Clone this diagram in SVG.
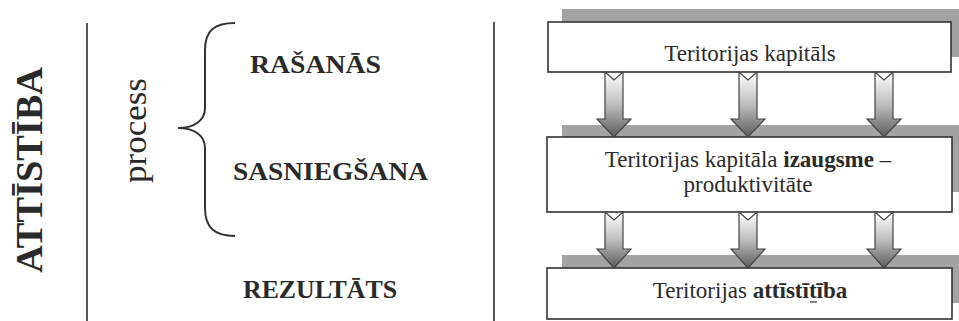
<svg xmlns="http://www.w3.org/2000/svg" width="959" height="321" viewBox="0 0 959 321">
<style>
.bg{fill:#ffffff}
.sep{stroke:#444;stroke-width:1.8;fill:none}
.brace{stroke:#333;stroke-width:2;fill:none}
.serif{font-family:"Liberation Serif","DejaVu Serif",serif;fill:#2a2a2a}
.cap{font-weight:bold;font-size:26px}
.box{fill:#ffffff;stroke:#333;stroke-width:1.6}
.shadow{fill:#a3a3a3}
.lbl{font-size:23px;text-anchor:middle}
.arrow{fill:url(#ag);stroke:#444;stroke-width:1.2;stroke-linejoin:miter}
</style>
<defs>
<linearGradient id="ag" x1="0" y1="0" x2="0" y2="1">
<stop offset="0" stop-color="#ffffff"/>
<stop offset="0.5" stop-color="#bdbdbd"/>
<stop offset="1" stop-color="#5c5c5c"/>
</linearGradient>
</defs>
<rect class="bg" x="0" y="0" width="959" height="321"/>

<g id="left">
<text class="serif" font-weight="bold" font-size="38" transform="translate(42,273) rotate(-90)" textLength="206" lengthAdjust="spacingAndGlyphs">ATTĪSTĪBA</text>
<line class="sep" x1="87" y1="23" x2="87" y2="321"/>
<text class="serif" font-size="34" transform="translate(146,183) rotate(-90)" textLength="105" lengthAdjust="spacingAndGlyphs">process</text>
<path class="brace" d="M235,23 C215,23 205,30 205,50 L205,108 C205,120 195,128 178,128 C195,128 205,136 205,148 L205,208 C205,228 215,236 235,236"/>
</g>

<g id="n-rasanas"><text class="serif cap" x="250" y="73" textLength="131" lengthAdjust="spacingAndGlyphs">RAŠANĀS</text></g>
<g id="n-sasniegsana"><text class="serif cap" x="233" y="180" textLength="195" lengthAdjust="spacingAndGlyphs">SASNIEGŠANA</text></g>
<g id="n-rezultats"><text class="serif cap" x="243" y="298" textLength="154" lengthAdjust="spacingAndGlyphs">REZULTĀTS</text></g>

<line class="sep" x1="494" y1="22" x2="494" y2="321"/>

<g id="shadows">
<rect class="shadow" x="562" y="9" width="400" height="48"/>
<rect class="shadow" x="562" y="125" width="400" height="67"/>
<rect class="shadow" x="562" y="255" width="400" height="48"/>
</g>

<g id="box1">
<rect class="box" x="548" y="22" width="403" height="50"/>
<text class="serif lbl" x="750" y="61">Teritorijas kapitāls</text>
</g>
<g id="box2">
<rect class="box" x="547" y="137" width="405" height="75"/>
<text class="serif lbl" x="748" y="167" font-size="22.4">Teritorijas kapitāla <tspan font-weight="bold">izaugsme</tspan> –</text>
<text class="serif lbl" x="748" y="192" font-size="22.4">produktivitāte</text>
</g>
<g id="box3">
<rect class="box" x="547" y="268" width="405" height="51"/>
<text class="serif lbl" x="750" y="298" font-size="22">Teritorijas <tspan font-weight="bold">attīstītība</tspan></text>
<line x1="810" y1="302" x2="817" y2="302" stroke="#2a2a2a" stroke-width="1.2"/>
</g>

<g id="connectors">
<path class="arrow" d="M605,72 L614,80 L623,72 L623,119 L631,119 L614,137 L597,119 L605,119 Z"/>
<path class="arrow" d="M739,72 L748,80 L757,72 L757,119 L765,119 L748,137 L731,119 L739,119 Z"/>
<path class="arrow" d="M875,72 L884,80 L893,72 L893,119 L901,119 L884,137 L867,119 L875,119 Z"/>
<path class="arrow" d="M605,212 L614,220 L623,212 L623,249 L631,249 L614,268 L597,249 L605,249 Z"/>
<path class="arrow" d="M739,212 L748,220 L757,212 L757,249 L765,249 L748,268 L731,249 L739,249 Z"/>
<path class="arrow" d="M875,212 L884,220 L893,212 L893,249 L901,249 L884,268 L867,249 L875,249 Z"/>
</g>
</svg>
